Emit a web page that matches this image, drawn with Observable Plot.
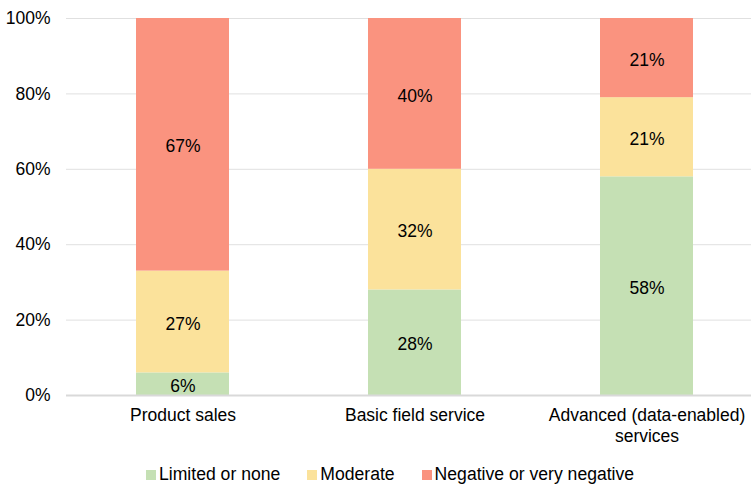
<!DOCTYPE html>
<html>
<head>
<meta charset="utf-8">
<script src="https://cdn.jsdelivr.net/npm/d3@7"></script>
<script src="https://cdn.jsdelivr.net/npm/@observablehq/plot@0.6"></script>
<style>
  html, body { margin: 0; padding: 0; background: #fff; }
  body { width: 751px; height: 484px; overflow: hidden; font-family: "Liberation Sans", Arial, sans-serif; }
  #chart svg { display: block; }
  .legend { display: flex; align-items: center; height: 29px; margin-top: 5px; margin-left: 146px; font-size: 17.6px; color: #000; }
  .legend .item { display: flex; align-items: center; margin-right: 27px; }
  .legend .sw { width: 10px; height: 10px; margin-right: 3px; }
</style>
</head>
<body>
<div id="chart"></div>
<div class="legend" id="legend"></div>
<script>
// Share of responses per offering, stacked bottom to top
const categories = ["Product sales", "Basic field service", "Advanced (data-enabled) services"];
const categoryLabels = ["Product sales", "Basic field service", "Advanced (data-enabled)\nservices"];
const series = ["Limited or none", "Moderate", "Negative or very negative"];
const colors = ["#c5e0b4", "#fbe29b", "#fa937f"];
const limitedOrNone = [6, 28, 58];
const moderate = [27, 32, 21];
const negative = [67, 40, 21];
const yTicks = [0, 20, 40, 60, 80, 100];

const valuesBySeries = [limitedOrNone, moderate, negative];
const rows = [];
categories.forEach((c, i) => {
  series.forEach((s, j) => rows.push({category: c, series: s, value: valuesBySeries[j][i]}));
});

const fs = 17.5;
const chart = Plot.plot({
  width: 751,
  height: 455,
  marginTop: 18,
  marginBottom: 60,
  marginLeft: 66,
  marginRight: 0,
  style: {fontFamily: "Liberation Sans, Arial, sans-serif", fontSize: fs + "px", color: "#000"},
  x: {domain: categories, range: [66, 762], paddingInner: 0.6, paddingOuter: 0.3},
  y: {domain: [0, 100]},
  color: {domain: series, range: colors},
  marks: [
    Plot.ruleY(yTicks.filter(d => d > 0), {stroke: "#e0e0e0", strokeWidth: 1}),
    Plot.barY(rows, {x: "category", y: "value", fill: "series", order: series}),
    Plot.ruleY([0], {stroke: "#d9d9d9", strokeWidth: 2}),
    Plot.text(rows, Plot.stackY({x: "category", y: "value", z: "series", order: series,
      text: d => d.value + "%", fill: "#000", fontSize: fs, dy: 2})),
    Plot.axisY({ticks: yTicks, tickFormat: d => d + "%", tickSize: 0, tickPadding: 16, label: null, fontSize: fs, fill: "#000"}),
    Plot.axisX({tickSize: 0, tickPadding: 11, label: null, fontSize: fs, fill: "#000", lineHeight: 1.2,
      tickFormat: d => categoryLabels[categories.indexOf(d)]})
  ]
});
document.getElementById("chart").appendChild(chart);

const legend = document.getElementById("legend");
series.forEach((s, i) => {
  const item = document.createElement("div");
  item.className = "item";
  const sw = document.createElement("span");
  sw.className = "sw";
  sw.style.background = colors[i];
  const label = document.createElement("span");
  label.textContent = s;
  item.appendChild(sw);
  item.appendChild(label);
  legend.appendChild(item);
});
</script>
</body>
</html>
